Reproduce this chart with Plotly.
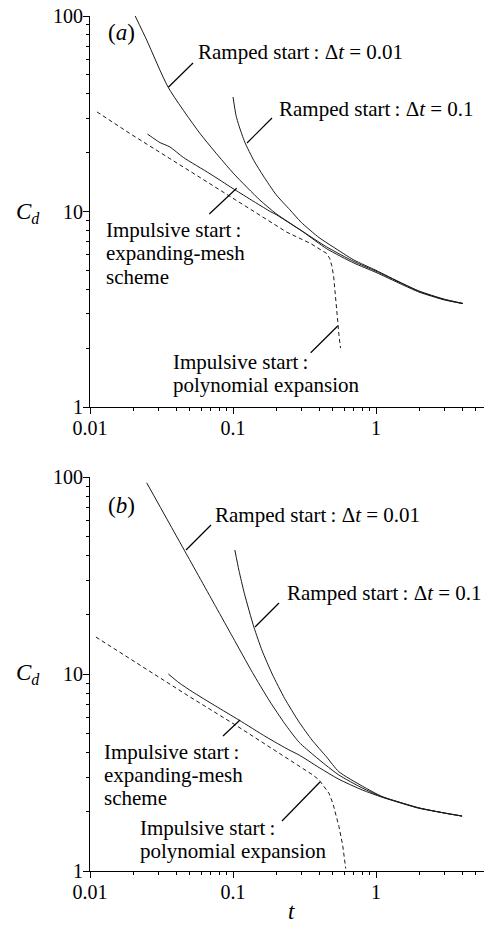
import plotly.graph_objects as go

# ---------------- data ----------------
# Panel (a)
a_r001_t = [0.0207, 0.0249, 0.0352, 0.0587, 0.1005, 0.154, 0.2, 0.3, 0.45, 0.7, 1.0, 1.5, 2.0, 3.0, 4.05]
a_r001_cd = [100, 75.4, 43.2, 25.1, 15.7, 11.45, 9.75, 8.0, 6.6, 5.55, 4.95, 4.3, 3.9, 3.55, 3.38]

a_r01_t = [0.1, 0.105, 0.11, 0.121, 0.14, 0.163, 0.2, 0.25, 0.3, 0.4, 0.5, 0.7, 1.0, 1.5, 2.0, 3.0, 4.05]
a_r01_cd = [38.5, 31.0, 27.5, 22.6, 18.2, 15.2, 12.2, 10.2, 8.8, 7.35, 6.6, 5.65, 5.0, 4.32, 3.92, 3.56, 3.39]

a_mesh_t = [0.0252, 0.0285, 0.0309, 0.0362, 0.045, 0.069, 0.1, 0.182, 0.2, 0.31, 0.452, 0.7, 1.0, 1.5, 2.0, 3.0, 4.05]
a_mesh_cd = [24.9, 23.4, 22.5, 21.4, 18.9, 15.6, 13.1, 10.0, 9.65, 7.85, 6.45, 5.45, 4.88, 4.25, 3.87, 3.53, 3.38]

a_poly_t = [0.0112, 0.0191, 0.0557, 0.163, 0.237, 0.35, 0.42, 0.452, 0.475, 0.49, 0.505, 0.517, 0.53, 0.54, 0.55, 0.565]
a_poly_cd = [32.3, 25.0, 15.3, 9.3, 7.85, 6.85, 6.35, 6.1, 5.75, 5.3, 4.7, 4.0, 3.3, 2.75, 2.35, 2.0]

# Panel (b)
b_r001_t = [0.0249, 0.0459, 0.0757, 0.1, 0.1365, 0.18, 0.23, 0.29, 0.37, 0.445, 0.55, 0.8, 1.1, 1.5, 2.0, 3.0, 4.0]
b_r001_cd = [93.5, 42.2, 22.0, 15.3, 10.2, 7.3, 5.6, 4.5, 3.85, 3.45, 3.07, 2.64, 2.38, 2.22, 2.09, 1.97, 1.9]

b_r01_t = [0.103, 0.11, 0.12, 0.14, 0.16, 0.188, 0.23, 0.29, 0.357, 0.45, 0.55, 0.8, 1.1, 1.5, 2.0, 3.0, 4.0]
b_r01_cd = [42.6, 33.6, 25.7, 17.3, 13.1, 10.0, 7.5, 5.7, 4.62, 3.8, 3.19, 2.7, 2.39, 2.22, 2.09, 1.97, 1.9]

b_mesh_t = [0.0353, 0.0419, 0.0519, 0.075, 0.110, 0.17, 0.246, 0.29, 0.4, 0.551, 0.8, 1.1, 1.5, 2.0, 3.0, 4.0]
b_mesh_cd = [10.0, 9.03, 8.13, 6.9, 5.84, 4.8, 4.12, 3.88, 3.35, 2.92, 2.58, 2.37, 2.21, 2.08, 1.97, 1.9]

b_poly_t = [0.011, 0.0232, 0.05, 0.104, 0.2, 0.305, 0.36, 0.40, 0.445, 0.469, 0.5, 0.523, 0.551, 0.585, 0.614]
b_poly_cd = [15.4, 10.9, 7.65, 5.51, 4.06, 3.32, 3.08, 2.9, 2.62, 2.48, 2.2, 1.96, 1.68, 1.35, 1.03]

x_tickvals = [0.01, 0.1, 1]
x_ticktext = ["0.01", "0.1", "1"]
y_tickvals = [1, 10, 100]
y_ticktext = ["1", "10", "100"]

label_r001 = "Ramped start\u2009: Δ<i>t</i> = 0.01"
label_r01 = "Ramped start\u2009: Δ<i>t</i> = 0.1"
label_imp = "Impulsive start\u2009:"
label_mesh1 = "expanding-mesh"
label_mesh2 = "scheme"
label_poly2 = "polynomial expansion"

# ---------------- layout geometry ----------------
W, H = 484, 925
L, R, T, B = 90, 0, 16, 54
PW = W - L - R
PH = H - T - B
DEC_X = 143.0
A_TOP, A_BOT = 16, 407
B_TOP, B_BOT = 477, 871

def px2paper(px, py):
    return (px - L) / PW, (H - B - py) / PH

def ydom(top, bot):
    return [(H - B - bot) / PH, (H - B - top) / PH]

xr = [-2, -2 + PW / DEC_X]
minor_x = [m * 10 ** e for e in (-2, -1, 0) for m in range(2, 10)]
minor_y = [m * 10 ** e for e in (0, 1) for m in range(2, 10)]

FONT = "Liberation Serif, Times New Roman, serif"
tf = dict(family=FONT, size=20, color="black")
LC = "#1a1a1a"
LBL = 21

fig = go.Figure()

def add_line(t, cd, xa, ya, dashed=False):
    fig.add_trace(go.Scatter(
        x=t, y=cd, xaxis=xa, yaxis=ya, mode="lines",
        line=dict(color=LC, width=1, dash="4px,3px" if dashed else "solid",
                  shape="linear" if dashed else "spline", smoothing=0.6),
        showlegend=False, hoverinfo="skip"))

add_line(a_r001_t, a_r001_cd, "x", "y")
add_line(a_r01_t, a_r01_cd, "x", "y")
add_line(a_mesh_t, a_mesh_cd, "x", "y")
add_line(a_poly_t, a_poly_cd, "x", "y", dashed=True)
add_line(b_r001_t, b_r001_cd, "x2", "y2")
add_line(b_r01_t, b_r01_cd, "x2", "y2")
add_line(b_mesh_t, b_mesh_cd, "x2", "y2")
add_line(b_poly_t, b_poly_cd, "x2", "y2", dashed=True)

def xaxis_cfg(anchor):
    return dict(type="log", range=xr, domain=[0, 1], anchor=anchor,
                tickmode="array", tickvals=x_tickvals, ticktext=x_ticktext,
                ticks="outside", ticklen=6, tickwidth=1, tickcolor="black",
                ticklabelstandoff=-3,
                minor=dict(tickmode="array", tickvals=minor_x, ticks="outside",
                           ticklen=3, tickwidth=1, tickcolor="black", showgrid=False),
                showline=True, linecolor="black", linewidth=1,
                showgrid=False, zeroline=False, tickfont=tf)

def yaxis_cfg(anchor, dom):
    return dict(type="log", range=[0, 2], domain=dom, anchor=anchor,
                tickmode="array", tickvals=y_tickvals, ticktext=y_ticktext,
                ticks="outside", ticklen=6, tickwidth=1, tickcolor="black",
                ticklabelstandoff=-4,
                minor=dict(tickmode="array", tickvals=minor_y, ticks="outside",
                           ticklen=3, tickwidth=1, tickcolor="black", showgrid=False),
                showline=True, linecolor="black", linewidth=1,
                showgrid=False, zeroline=False, tickfont=tf)

def top_cfg(over, anchor):
    return dict(type="log", range=xr, overlaying=over, anchor=anchor, side="top",
                tickmode="array", tickvals=x_tickvals, showticklabels=False,
                ticks="inside", ticklen=5, tickwidth=1, tickcolor="#777",
                minor=dict(tickmode="array", tickvals=minor_x, ticks="inside",
                           ticklen=3, tickwidth=1, tickcolor="#777", showgrid=False),
                showline=True, linecolor="#888", linewidth=1,
                showgrid=False, zeroline=False)

annotations = []
shapes = []

def text(px, py, s, size=LBL, xanchor="left"):
    xp, yp = px2paper(px, py)
    annotations.append(dict(x=xp, y=yp, xref="paper", yref="paper", text=s,
                            showarrow=False, xanchor=xanchor, yanchor="middle",
                            font=dict(family=FONT, size=size, color="black")))

def leader(px0, py0, px1, py1):
    x0, y0 = px2paper(px0, py0)
    x1, y1 = px2paper(px1, py1)
    shapes.append(dict(type="line", xref="paper", yref="paper",
                       x0=x0, y0=y0, x1=x1, y1=y1,
                       line=dict(color="black", width=1.2)))

# panel (a) labels
text(106, 32, "(<i>a</i>)", size=23)
text(196, 52, label_r001)
leader(193, 63, 168.3, 87.3)
text(277, 109, label_r01)
leader(272, 118, 247, 143)
text(104, 230, label_imp)
text(104, 253, label_mesh1)
text(104, 277, label_mesh2)
leader(209.3, 214, 236.7, 188.3)
text(171, 362, label_imp)
text(171, 385, label_poly2)
leader(310.7, 352.7, 337.7, 326)

# panel (b) labels
text(106, 505, "(<i>b</i>)", size=23)
text(213, 515, label_r001)
leader(211, 525, 186, 550)
text(285, 593, label_r01)
leader(279, 603, 255, 627)
text(102, 752, label_imp)
text(102, 775, label_mesh1)
text(102, 798, label_mesh2)
leader(223, 736, 240, 720)
text(138, 828, label_imp)
text(138, 851, label_poly2)
leader(282, 821, 320, 782)

# axis titles
text(14, 213, "<i>C</i><sub><i>d</i></sub>", size=23)
text(14, 674, "<i>C</i><sub><i>d</i></sub>", size=23)
text(291, 911, "<i>t</i>", size=23, xanchor="center")

fig.update_layout(
    width=W, height=H,
    margin=dict(l=L, r=R, t=T, b=B, pad=0),
    paper_bgcolor="white", plot_bgcolor="white",
    xaxis=xaxis_cfg("y"),
    yaxis=yaxis_cfg("x", ydom(A_TOP, A_BOT)),
    xaxis2=xaxis_cfg("y2"),
    yaxis2=yaxis_cfg("x2", ydom(B_TOP, B_BOT)),
    xaxis3=top_cfg("x", "y"),
    xaxis4=top_cfg("x2", "y2"),
    annotations=annotations,
    shapes=shapes,
    font=dict(family=FONT, color="black"),
)

fig.write_html("out.html")
